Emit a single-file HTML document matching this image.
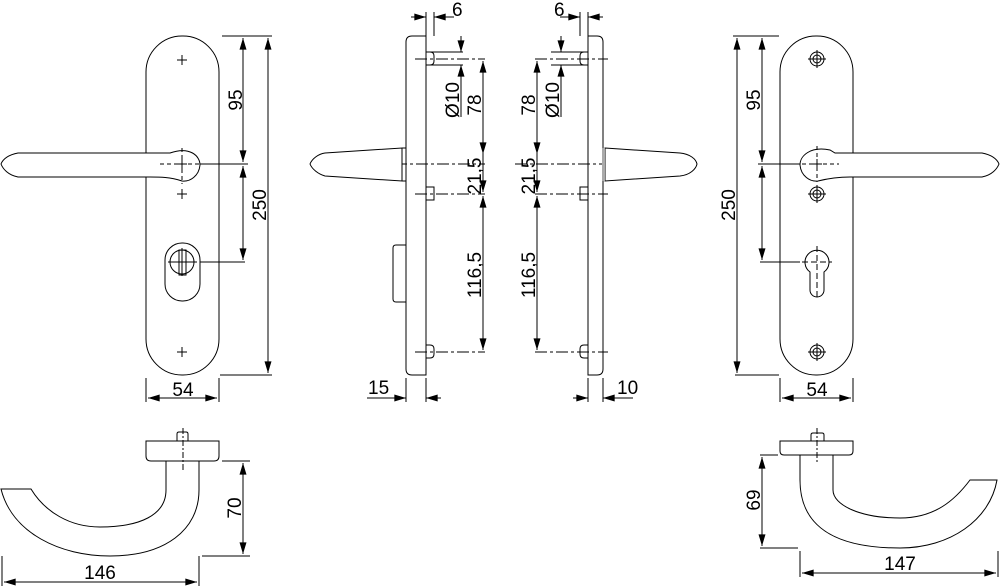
<!DOCTYPE html>
<html><head><meta charset="utf-8"><style>
html,body{margin:0;padding:0;background:#fff;}
svg{display:block}
text{font-family:"Liberation Sans",sans-serif;font-size:19px;fill:#000}
</style></head><body>
<svg width="1000" height="586" viewBox="0 0 1000 586" xmlns="http://www.w3.org/2000/svg">
<defs>
<marker id="a" viewBox="0 0 10 6" refX="10" refY="3" markerWidth="15" markerHeight="7" markerUnits="userSpaceOnUse" orient="auto-start-reverse"><path d="M0,0L10,3L0,6Z" fill="#000"/></marker>
</defs>
<g fill="none" stroke="#000" stroke-width="1">
<!-- LEFT FRONT -->
<rect x="146" y="36" width="73" height="339" rx="36" ry="36"/>
<path d="M177,60h10M182,55v10M177,194h10M182,189v10M177,352h10M182,347v10"/>
<path d="M18,153L170,153C190,146 200,156 200,165C199,176 190,182 182,181C170,177 160,177 150,177L18,177C8,175 3,169 1,164C3,159 8,155 18,153Z" fill="#fff"/>
<path d="M182,148v36M160,164h44" stroke-dasharray="4,3"/>
<path d="M177,164h10M182,159v10"/>
<rect x="165" y="243" width="35" height="58" rx="17"/>
<circle cx="182" cy="262" r="12"/>
<rect x="179" y="250" width="7" height="25"/>
<path d="M168,262h29M182,248v28"/>
<path d="M222,36h50M200,164h48M200,262h45M220,375h52"/>
<path d="M243,38V162" marker-start="url(#a)" marker-end="url(#a)"/>
<path d="M243,166V260" marker-start="url(#a)" marker-end="url(#a)"/>
<path d="M268,38V373" marker-start="url(#a)" marker-end="url(#a)"/>
<path d="M146,378v24M219,378v24"/>
<path d="M148,398H217" marker-start="url(#a)" marker-end="url(#a)"/>

<!-- MIDDLE LEFT SIDE -->
<path d="M426,36H412Q406,36 406,42V369Q406,375 412,375H426Z"/>
<path d="M426,52h4q4,0 4,4v5q0,4-4,4h-4M426,187h8v13h-8M426,345h4q4,0 4,4v5q0,4-4,4h-4"/>
<path d="M395,164H485M415,59H485M415,194H485M415,352H485" stroke-dasharray="12,3,3,3"/>
<path d="M325,153L402,148V181L325,176C318,174 312,169 310,164C312,159 318,154 325,153Z" fill="#fff"/>
<path d="M402,148h4v33h-4"/>
<path d="M406,245h-10q-3,0-3,3v51q0,3 3,3h10"/>
<path d="M426,12v24M434,12v24M434,17h20" />
<path d="M411,17h15" marker-end="url(#a)"/><path d="M449,17h-15" marker-end="url(#a)"/>
<path d="M430,52h33M430,65h33"/>
<path d="M461,36v16" marker-end="url(#a)"/><path d="M461,81v-16" marker-end="url(#a)"/>
<path d="M461,65v52"/>
<path d="M483,61V154" marker-start="url(#a)" marker-end="url(#a)"/>
<path d="M483,154V192" marker-end="url(#a)"/>
<path d="M483,196V350" marker-start="url(#a)" marker-end="url(#a)"/>
<path d="M406,378v24M426,378v24M367,398h25"/>
<path d="M391,398h15" marker-end="url(#a)"/><path d="M441,398h-15" marker-end="url(#a)"/>

<!-- MIDDLE RIGHT SIDE -->
<path d="M588,36H597Q603,36 603,42V369Q603,375 597,375H588Z"/>
<path d="M588,52h-4q-4,0-4,4v5q0,4 4,4h4M588,187h-8v13h8M588,345h-4q-4,0-4,4v5q0,4 4,4h4"/>
<path d="M515,164H608M535,59H608M535,194H608M535,352H608" stroke-dasharray="12,3,3,3"/>
<path d="M605,148L680,153C690,154 696,159 697,164C696,169 690,175 680,176L605,181Z" fill="#fff"/>
<rect x="602" y="148" width="3" height="33" fill="#aaa" stroke="none"/>
<path d="M580,12v24M588,12v24M560,17h20"/>
<path d="M565,17h15" marker-end="url(#a)"/><path d="M603,17h-15" marker-end="url(#a)"/>
<path d="M551,52h33M551,65h33"/>
<path d="M561,36v16" marker-end="url(#a)"/><path d="M561,81v-16" marker-end="url(#a)"/>
<path d="M561,65v52"/>
<path d="M537,61V154" marker-start="url(#a)" marker-end="url(#a)"/>
<path d="M537,154V192" marker-end="url(#a)"/>
<path d="M537,196V350" marker-start="url(#a)" marker-end="url(#a)"/>
<path d="M588,378v24M603,378v24M603,398h30"/>
<path d="M573,398h15" marker-end="url(#a)"/><path d="M618,398h-15" marker-end="url(#a)"/>

<!-- RIGHT FRONT -->
<rect x="780" y="36" width="73" height="339" rx="36" ry="36"/>
<g>
<circle cx="817" cy="59" r="7"/><circle cx="817" cy="59" r="4"/><path d="M808,59h18M817,50v18"/>
<circle cx="817" cy="194" r="7"/><circle cx="817" cy="194" r="4"/><path d="M808,194h18M817,185v18"/>
<circle cx="817" cy="352" r="7"/><circle cx="817" cy="352" r="4"/><path d="M808,352h18M817,343v18"/>
</g>
<path d="M835,153L982,153C992,155 997,159 999,164C997,169 992,175 982,177L850,177C840,177 830,178 818,181C810,182 801,176 800,165C800,156 810,146 830,150Z" fill="#fff"/>
<path d="M817,146v36M795,164h44" stroke-dasharray="4,3"/>
<path d="M812,164h10M817,159v10"/>
<path d="M810,272A12,12 0 1 1 824,272L824,290A7,7 0 0 1 810,290Z"/>
<path d="M817,246v52M802,262h30" stroke-dasharray="6,3"/>
<path d="M733,36h46M735,375h44M758,164h42M760,262h40"/>
<path d="M737,38V373" marker-start="url(#a)" marker-end="url(#a)"/>
<path d="M762,38V162" marker-start="url(#a)" marker-end="url(#a)"/>
<path d="M762,166V260" marker-start="url(#a)" marker-end="url(#a)"/>
<path d="M780,378v24M853,378v24"/>
<path d="M782,398H851" marker-start="url(#a)" marker-end="url(#a)"/>

<!-- BOTTOM LEFT -->
<path d="M146,441H219V456Q219,461 214,461H151Q146,461 146,456Z"/>
<path d="M177,441V434Q177,432 179,432H186Q188,432 188,434V441"/>
<path d="M183,428V470" stroke-dasharray="6,2,2,2"/>
<path d="M166,461h33"/>
<path d="M166,461V490C166,515 140,527 100,527C70,527 45,512 31,489L1,489C12,533 60,556 110,556C165,556 199,530 199,490V461"/>
<path d="M222,461h28M202,556h48"/>
<path d="M243,463V554" marker-start="url(#a)" marker-end="url(#a)"/>
<path d="M2,556v30M199,556v30"/>
<path d="M4,582H197" marker-start="url(#a)" marker-end="url(#a)"/>

<!-- BOTTOM RIGHT -->
<path d="M780,441H853V451Q853,455 849,455H784Q780,455 780,451Z"/>
<path d="M811,441V435Q811,433 813,433H822Q824,433 824,435V441"/>
<path d="M817,428V462" stroke-dasharray="6,2,2,2"/>
<path d="M800,455h33"/>
<path d="M833,455V490C833,505 860,518 900,518C935,518 955,500 970,480L997,480C990,520 950,548 900,548C840,548 800,530 800,480V455"/>
<path d="M760,455h18M760,548h38"/>
<path d="M762,457V546" marker-start="url(#a)" marker-end="url(#a)"/>
<path d="M800,551v26M998,551v26"/>
<path d="M802,573H996" marker-start="url(#a)" marker-end="url(#a)"/>
</g>
<g>
<text transform="translate(242,100) rotate(-90)" text-anchor="middle">95</text>
<text transform="translate(266,205) rotate(-90)" text-anchor="middle">250</text>
<text x="183" y="396" text-anchor="middle">54</text>
<text x="452" y="16">6</text>
<text transform="translate(459,100) rotate(-90)" text-anchor="middle">Ø10</text>
<text transform="translate(481,105) rotate(-90)" text-anchor="middle">78</text>
<text transform="translate(481,176) rotate(-90)" text-anchor="middle">21,5</text>
<text transform="translate(481,275) rotate(-90)" text-anchor="middle">116,5</text>
<text x="368" y="394">15</text>
<text x="554" y="16">6</text>
<text transform="translate(559,100) rotate(-90)" text-anchor="middle">Ø10</text>
<text transform="translate(535,105) rotate(-90)" text-anchor="middle">78</text>
<text transform="translate(535,176) rotate(-90)" text-anchor="middle">21,5</text>
<text transform="translate(535,275) rotate(-90)" text-anchor="middle">116,5</text>
<text x="617" y="394">10</text>
<text transform="translate(760,100) rotate(-90)" text-anchor="middle">95</text>
<text transform="translate(735,205) rotate(-90)" text-anchor="middle">250</text>
<text x="817" y="396" text-anchor="middle">54</text>
<text transform="translate(241,508) rotate(-90)" text-anchor="middle">70</text>
<text x="100" y="579" text-anchor="middle">146</text>
<text transform="translate(760,500) rotate(-90)" text-anchor="middle">69</text>
<text x="900" y="570" text-anchor="middle">147</text>
</g>
</svg>
</body></html>
